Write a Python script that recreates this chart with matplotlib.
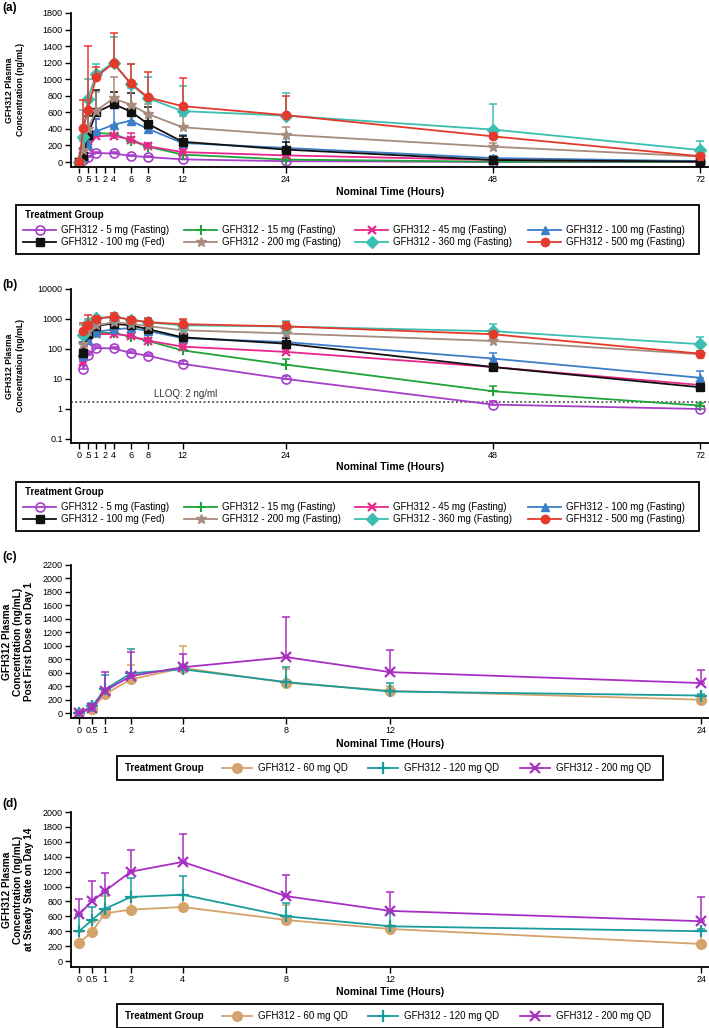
import numpy as np
import matplotlib
matplotlib.use('Agg')
import matplotlib.pyplot as plt
from matplotlib.patches import Rectangle

plt.rcParams['font.family'] = ['Liberation Sans', 'DejaVu Sans']

# ---------------- data: panels (a) and (b) ----------------
times_ab = [0, 0.5, 1, 2, 4, 6, 8, 12, 24, 48, 72]
xtick_pos_ab = [0, 1, 2, 3, 4, 6, 8, 12, 24, 48, 72]
xtick_lab_ab = ['0', '.5', '1', '2', '4', '6', '8', '12', '24', '48', '72']

groups_ab = ['GFH312 - 5 mg (Fasting)', 'GFH312 - 15 mg (Fasting)',
             'GFH312 - 45 mg (Fasting)', 'GFH312 - 100 mg (Fasting)',
             'GFH312 - 100 mg (Fed)', 'GFH312 - 200 mg (Fasting)',
             'GFH312 - 360 mg (Fasting)', 'GFH312 - 500 mg (Fasting)']
mean_5 = [0, 22, 62, 108, 104, 74, 60, 32, 10, 1.4, 1.0]
upper_5 = [0, 30, 75, 125, 120, 85, 70, 40, 13, 1.8, 1.3]
mean_15 = [0, 60, 250, 350, 340, 260, 185, 90, 30, 3.9, 1.3]
upper_15 = [0, 90, 320, 380, 450, 300, 220, 120, 45, 6.0, 1.6]
mean_45 = [0, 37, 170, 310, 320, 270, 190, 120, 80, 25, 6.3]
upper_45 = [0, 60, 230, 520, 420, 350, 230, 160, 110, 32, 8.0]
mean_100 = [0, 60, 200, 370, 450, 500, 400, 230, 170, 48, 11]
upper_100 = [0, 100, 300, 520, 650, 560, 450, 330, 330, 75, 18]
mean_fed = [0, 75, 323, 600, 700, 610, 460, 245, 150, 25, 5.3]
upper_fed = [0, 170, 560, 870, 850, 830, 660, 310, 240, 32, 7.0]
mean_200 = [0, 150, 400, 620, 770, 690, 580, 420, 330, 185, 67]
upper_200 = [0, 250, 600, 850, 1030, 900, 700, 560, 420, 230, 85]
mean_360 = [0, 300, 760, 1060, 1200, 940, 770, 615, 560, 392, 145]
upper_360 = [0, 630, 1000, 1190, 1510, 1180, 1030, 920, 830, 700, 260]
mean_500 = [0, 413, 627, 1030, 1193, 950, 780, 675, 566, 310, 70]
upper_500 = [0, 750, 1400, 1150, 1560, 1190, 1090, 1010, 800, 350, 85]
lloq = 1.68

# ---------------- data: panels (c) and (d) ----------------
times_cd = [0, 0.5, 1, 2, 4, 8, 12, 24]
xtick_lab_cd = ['0', '0.5', '1', '2', '4', '8', '12', '24']
groups_cd = ['GFH312 - 60 mg QD', 'GFH312 - 120 mg QD', 'GFH312 - 200 mg QD']
c_mean_60 = [0, 60, 280, 500, 670, 450, 331, 198]
c_upper_60 = [20, 130, 370, 710, 1000, 650, 400, 240]
c_mean_120 = [0, 100, 350, 590, 650, 460, 320, 260]
c_upper_120 = [20, 150, 560, 950, 700, 690, 440, 280]
c_mean_200 = [0, 80, 330, 550, 680, 830, 608, 445]
c_upper_200 = [20, 130, 610, 910, 870, 1430, 940, 640]
d_mean_60 = [245, 390, 640, 690, 725, 550, 430, 229]
d_upper_60 = [390, 520, 870, 850, 880, 750, 460, 400]
d_mean_120 = [400, 550, 700, 860, 890, 600, 466, 400]
d_upper_120 = [600, 720, 910, 1110, 1140, 780, 640, 430]
d_mean_200 = [630, 800, 940, 1200, 1330, 870, 673, 534]
d_upper_200 = [830, 1080, 1180, 1490, 1710, 1150, 920, 860]

# ---------------- styles ----------------
styles_ab = [
    dict(color='#A63FC8', marker='o', mfc='none', ms=6.5, mew=1.2),
    dict(color='#1FA33A', marker='+', ms=7, mew=1.5),
    dict(color='#E8268C', marker='x', ms=6, mew=1.6),
    dict(color='#3C7EC8', marker='^', ms=6),
    dict(color='#111111', marker='s', ms=6),
    dict(color='#A78B7F', marker='*', ms=7.5),
    dict(color='#3CBEB1', marker='D', ms=6),
    dict(color='#E5392C', marker='o', ms=6),
]
styles_cd = [
    dict(color='#D4A36B', marker='o', ms=7),
    dict(color='#1A9C9E', marker='+', ms=8, mew=1.6),
    dict(color='#A82EC2', marker='x', ms=7, mew=1.6),
]

W, H = 709, 1028
fig = plt.figure(figsize=(W / 100, H / 100), dpi=100)


def fx(px):
    return px / W


def fy(py):
    return 1 - py / H


def make_axes(top, bottom, left=71, right=709):
    return fig.add_axes([fx(left), fy(bottom), (right - left) / W, (bottom - top) / H])


def style_axes(ax):
    for s in ['top', 'right']:
        ax.spines[s].set_visible(False)
    for s in ['left', 'bottom']:
        ax.spines[s].set_linewidth(1.3)
    ax.tick_params(direction='out', length=4, width=1, labelsize=6.5, pad=2)


def draw_series(ax, t, means, uppers, styles, log=False):
    handles = []
    for m, u, st in zip(means, uppers, styles):
        t_a = np.array(t, float)
        m_a = np.array(m, float)
        u_a = np.array(u, float)
        if log:
            keep = m_a > 0
            t_a, m_a, u_a = t_a[keep], m_a[keep], u_a[keep]
        ax.errorbar(t_a, m_a, yerr=[np.zeros_like(m_a), np.clip(u_a - m_a, 0, None)],
                    fmt='none', ecolor=st['color'], elinewidth=1.1, capsize=3.2,
                    capthick=1.1, clip_on=False)
        kw = dict(st)
        c = kw.pop('color')
        ln, = ax.plot(t_a, m_a, color=c, lw=1.3, markeredgecolor=c,
                      markerfacecolor=kw.pop('mfc', c), clip_on=False, **kw)
        handles.append(ln)
    return handles


def panel_label(txt, y):
    fig.text(fx(2), fy(y), txt, fontsize=8.5, fontweight='bold', va='center', ha='left')


def xlabel(ax, ypx, axis_bottom, axis_h):
    ax.set_xlabel('Nominal Time (Hours)', fontsize=7.5, fontweight='bold')
    ax.xaxis.set_label_coords(0.5, -(ypx - axis_bottom) / axis_h)
    ax.xaxis.label.set_va('center')


def ylabel(ax, text, xpx, size):
    ax.set_ylabel(text, fontsize=size, fontweight='bold', linespacing=1.15)
    ax.yaxis.set_label_coords((xpx - 71) / (709 - 71), 0.5)
    ax.yaxis.label.set_va('center')


def legend_ab(handles, top):
    fig.patches.append(Rectangle((fx(16), fy(top + 49)), 683 / W, 49 / H,
                                 transform=fig.transFigure, fill=False,
                                 edgecolor='black', linewidth=1.3))
    fig.text(fx(25), fy(top + 10), 'Treatment Group', fontsize=7,
             fontweight='bold', va='center', ha='left')
    col_x = [23, 184, 355, 528]
    order = [[0, 4], [1, 5], [2, 6], [3, 7]]
    for cx, idx in zip(col_x, order):
        fig.legend([handles[i] for i in idx], [groups_ab[i] for i in idx],
                   loc='center left', bbox_to_anchor=(fx(cx), fy(top + 31)),
                   frameon=False, fontsize=7, handlelength=3.4, handletextpad=0.5,
                   labelspacing=0.2, borderpad=0, borderaxespad=0)


def legend_cd(handles, top):
    fig.patches.append(Rectangle((fx(117), fy(top + 24)), 546 / W, 24 / H,
                                 transform=fig.transFigure, fill=False,
                                 edgecolor='black', linewidth=1.3))
    fig.text(fx(125), fy(top + 12), 'Treatment Group', fontsize=7,
             fontweight='bold', va='center', ha='left')
    col_x = [222, 368, 520]
    for cx, h, lab in zip(col_x, handles, groups_cd):
        fig.legend([h], [lab], loc='center left', bbox_to_anchor=(fx(cx), fy(top + 12)),
                   frameon=False, fontsize=7, handlelength=3.1, handletextpad=0.6,
                   borderpad=0, borderaxespad=0)


means_ab = [mean_5, mean_15, mean_45, mean_100, mean_fed, mean_200, mean_360, mean_500]
uppers_ab = [upper_5, upper_15, upper_45, upper_100, upper_fed, upper_200, upper_360, upper_500]

# ---------------- (a) ----------------
axa = make_axes(13, 167)
style_axes(axa)
ha = draw_series(axa, times_ab, means_ab, uppers_ab, styles_ab)
axa.set_xlim(-0.93, 73.04)
axa.set_ylim(-60, 1800)
axa.set_yticks(np.arange(0, 1801, 200))
axa.set_xticks(xtick_pos_ab)
axa.set_xticklabels(xtick_lab_ab)
xlabel(axa, 192, 167, 154)
ylabel(axa, 'GFH312 Plasma\nConcentration (ng/mL)', 15, 6.2)
panel_label('(a)', 8)
legend_ab(ha, 205)

# ---------------- (b) ----------------
axb = make_axes(289, 443)
style_axes(axb)
hb = draw_series(axb, times_ab, means_ab, uppers_ab, styles_ab, log=True)
axb.set_yscale('log')
axb.set_xlim(-0.93, 73.04)
axb.set_ylim(0.0734, 10000)
axb.set_yticks([0.1, 1, 10, 100, 1000, 10000])
axb.set_yticklabels(['0.1', '1', '10', '100', '1000', '10000'])
axb.yaxis.set_minor_locator(matplotlib.ticker.NullLocator())
axb.set_xticks(xtick_pos_ab)
axb.set_xticklabels(xtick_lab_ab)
axb.axhline(lloq, color='#333333', lw=1.1, ls=(0, (1.2, 1.6)), zorder=0)
axb.text(8.7, lloq * 1.25, 'LLOQ: 2 ng/ml', fontsize=7, color='#333333',
         ha='left', va='bottom')
xlabel(axb, 467, 443, 154)
ylabel(axb, 'GFH312 Plasma\nConcentration (ng/mL)', 15, 6.2)
panel_label('(b)', 285)
legend_ab(hb, 482)

# ---------------- (c) ----------------
axc = make_axes(565, 718)
style_axes(axc)
hc = draw_series(axc, times_cd, [c_mean_60, c_mean_120, c_mean_200],
                 [c_upper_60, c_upper_120, c_upper_200], styles_cd)
axc.set_xlim(-0.31, 24.3)
axc.set_ylim(-74, 2200)
axc.set_yticks(np.arange(0, 2201, 200))
axc.set_xticks(times_cd)
axc.set_xticklabels(xtick_lab_cd)
xlabel(axc, 744, 718, 153)
ylabel(axc, 'GFH312 Plasma\nConcentration (ng/mL)\nPost First Dose on Day 1', 18, 7.3)
panel_label('(c)', 557)
legend_cd(hc, 756)

# ---------------- (d) ----------------
axd = make_axes(812, 967)
style_axes(axd)
hd = draw_series(axd, times_cd, [d_mean_60, d_mean_120, d_mean_200],
                 [d_upper_60, d_upper_120, d_upper_200], styles_cd)
axd.set_xlim(-0.31, 24.3)
axd.set_ylim(-80, 2000)
axd.set_yticks(np.arange(0, 2001, 200))
axd.set_xticks(times_cd)
axd.set_xticklabels(xtick_lab_cd)
xlabel(axd, 992, 967, 155)
ylabel(axd, 'GFH312 Plasma\nConcentration (ng/mL)\nat Steady State on Day 14', 18, 7.3)
panel_label('(d)', 804)
legend_cd(hd, 1004)

fig.savefig('out.png', dpi=100)
